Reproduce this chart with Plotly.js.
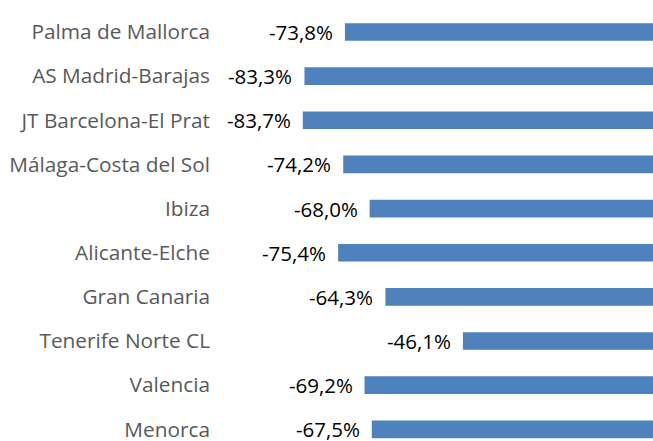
<!DOCTYPE html>
<html>
<head>
<meta charset="utf-8">
<script src="https://cdn.plot.ly/plotly-3.0.1.min.js"></script>
<style>html,body{margin:0;padding:0;background:#fff;}#chart{width:653px;height:441px;}</style>
</head>
<body>
<div id="chart"></div>
<script>
const airports = ["Palma de Mallorca","AS Madrid-Barajas","JT Barcelona-El Prat","Málaga-Costa del Sol","Ibiza","Alicante-Elche","Gran Canaria","Tenerife Norte CL","Valencia","Menorca"];
const changes = [-73.8,-83.3,-83.7,-74.2,-68.0,-75.4,-64.3,-46.1,-69.2,-67.5];

const fmt = v => v.toFixed(1).replace('.', ',') + '%';

const trace = {
  type: 'bar',
  orientation: 'h',
  y: airports,
  x: changes,
  width: 0.4,
  marker: {color: '#4f81bd'},
  hoverinfo: 'none'
};

const annotations = airports.map((a, i) => ({
  x: changes[i], y: a, xref: 'x', yref: 'y',
  text: fmt(changes[i]),
  showarrow: false, xanchor: 'right', yanchor: 'middle', xshift: -10,
  font: {family: '"Open Sans", sans-serif', size: 20.5, color: '#000000'}
}));

const layout = {
  width: 653, height: 441,
  margin: {l: 218, r: 0, t: 10, b: 0, pad: 0},
  paper_bgcolor: '#ffffff', plot_bgcolor: '#ffffff',
  showlegend: false,
  xaxis: {range: [-103.6, -1.48], showgrid: false, zeroline: false, showticklabels: false, showline: false, ticks: ''},
  yaxis: {type: 'category', range: [9.264, -0.498], showgrid: false, zeroline: false, showline: false, ticks: '',
          tickfont: {family: '"Open Sans", sans-serif', size: 20.8, color: '#595959'}, ticklabelstandoff: 7},
  annotations: annotations
};

Plotly.newPlot('chart', [trace], layout, {staticPlot: true, displayModeBar: false});
</script>
</body>
</html>
